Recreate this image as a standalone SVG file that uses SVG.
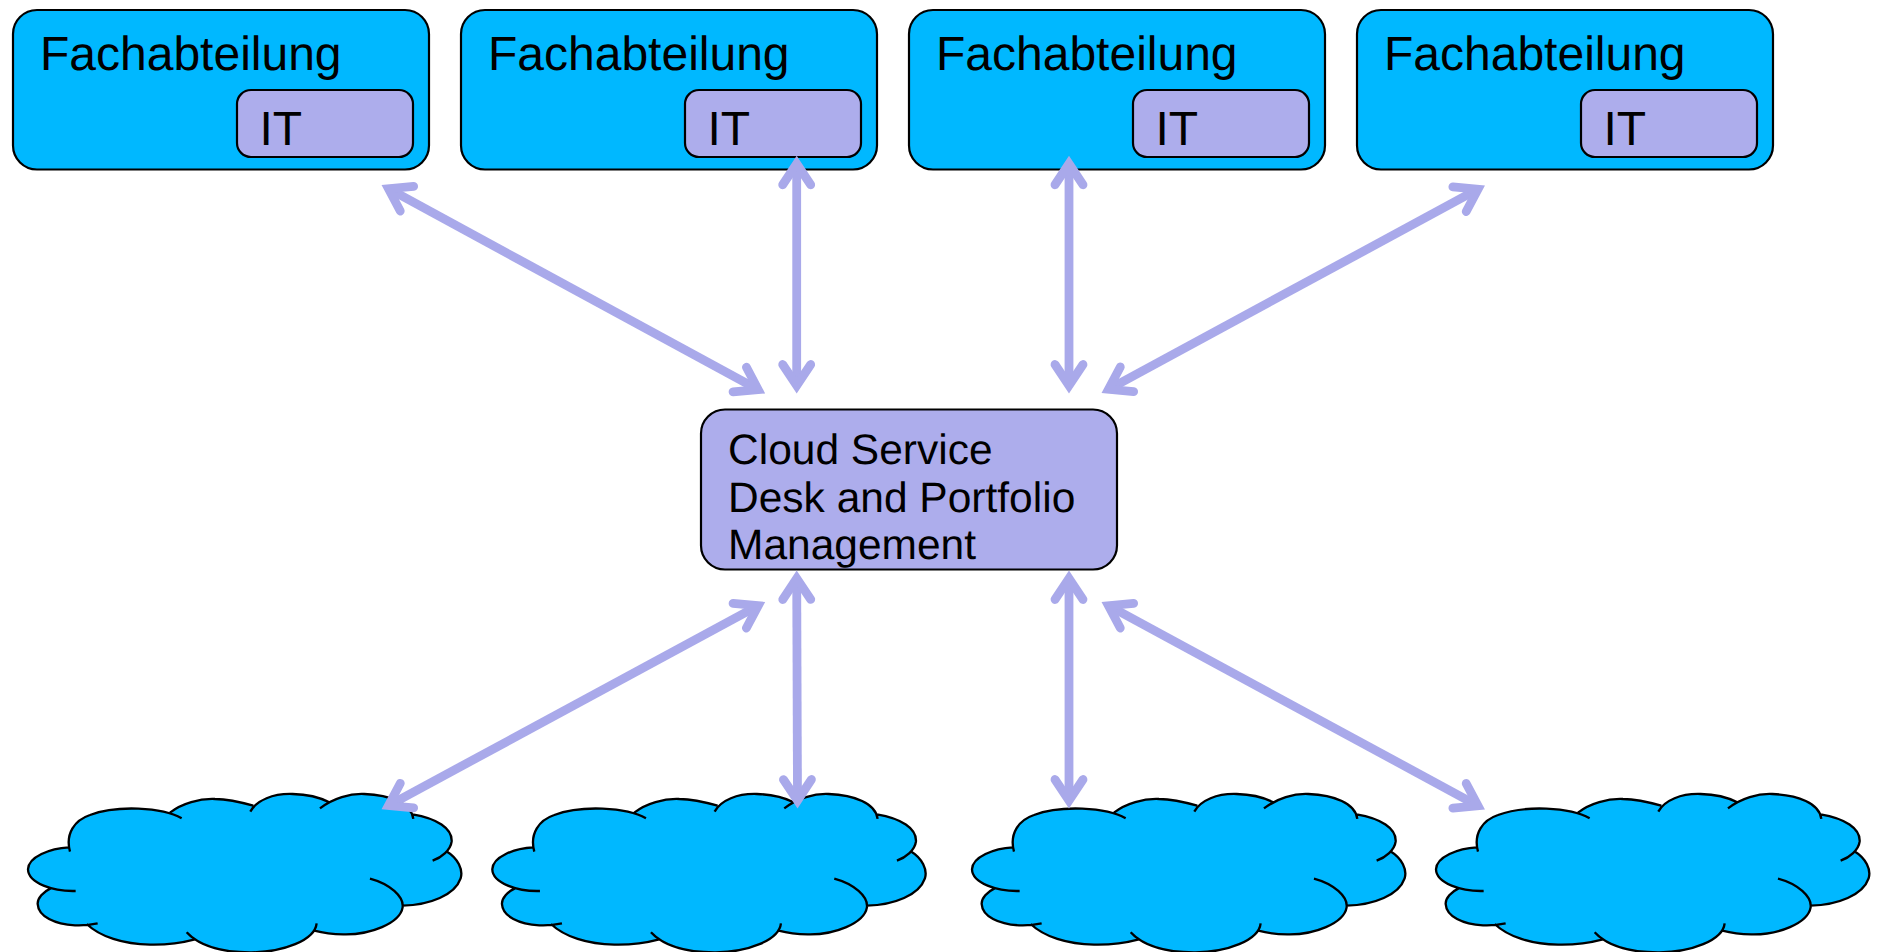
<svg xmlns="http://www.w3.org/2000/svg" width="1879" height="952" viewBox="0 0 1879 952">
<style>
.blue{fill:#00b8ff;stroke:#000;stroke-width:2.2}
.lav{fill:#adadec;stroke:#000;stroke-width:2.2}
text{font-family:"Liberation Sans",Arial,sans-serif;fill:#000;text-rendering:geometricPrecision}
.t{font-size:48px}
.c{font-size:42.500px}
.conn{stroke:#a9a9ea;stroke-width:8.800;fill:none;marker-start:url(#h);marker-end:url(#h)}
.cf{fill:#00b8ff;stroke:none}
.cs{fill:none;stroke:#000;stroke-width:7}
</style>
<defs>
<marker id="h" markerUnits="userSpaceOnUse" markerWidth="60" markerHeight="60" viewBox="-5 -30 60 60" refX="31" refY="0" orient="auto-start-reverse" overflow="visible">
<path d="M10 -14L31 0L10 14" fill="none" stroke="#a9a9ea" stroke-width="8.800" stroke-linecap="round" stroke-linejoin="miter" stroke-miterlimit="10"/>
</marker>
<g id="cloud" transform="translate(0,770) scale(0.3333)">
<path class="cf" d="M207 232C195 190 225 150 270 135C310 120 360 114 415 116C450 118 485 122 510 128C545 100 600 85 645 87C690 88 735 100 760 107C790 85 830 70 878 72C925 73 965 85 985 98C1015 82 1050 70 1093 72C1170 75 1225 100 1238 133C1310 145 1358 175 1355 215C1352 225 1345 235 1338 243C1375 265 1390 300 1382 325C1365 375 1290 405 1208 407C1200 460 1110 495 1030 493C1000 493 965 488 943 482C900 530 830 548 750 547C690 547 630 535 585 508C540 520 490 525 450 524C370 523 300 500 260 462C245 467 235 466 225 466C165 463 115 440 113 402C112 385 130 365 152 355C110 345 84 325 84 298C85 260 150 235 207 232Z"/>
<path class="cs" d="M210 245C195 190 225 150 270 135C310 120 360 114 415 116C460 118 510 125 545 145M510 128C545 100 600 85 645 87C690 88 735 100 760 107M751 125C770 90 820 70 878 72C925 73 965 85 988 97M960 115C1000 85 1050 70 1093 72C1170 75 1235 100 1240 147M1238 133C1310 145 1358 175 1355 215C1352 240 1325 262 1298 272M1338 243C1375 265 1390 300 1382 325C1365 375 1290 405 1208 407M1110 326C1170 342 1212 380 1208 412C1200 460 1110 495 1030 493C1000 493 965 488 943 482M950 460C945 510 850 548 750 547C670 547 600 530 560 487M585 508C540 520 490 525 450 524C370 523 300 500 260 462M293 460C270 465 245 467 225 466C165 463 115 440 113 402C112 385 130 365 152 355M227 363C160 365 85 340 84 298C85 260 150 235 207 232"/>
</g>
</defs>
<rect width="1879" height="952" fill="#fff"/>
<g id="dept1"><rect class="blue" x="13" y="10" width="416" height="159.500" rx="24"/><text class="t" x="40" y="69.500">Fachabteilung</text><rect class="lav" x="237" y="90" width="176" height="67" rx="14"/><text class="t" x="259.500" y="144.500">IT</text></g>
<g id="dept2"><rect class="blue" x="461" y="10" width="416" height="159.500" rx="24"/><text class="t" x="488" y="69.500">Fachabteilung</text><rect class="lav" x="685" y="90" width="176" height="67" rx="14"/><text class="t" x="707.500" y="144.500">IT</text></g>
<g id="dept3"><rect class="blue" x="909" y="10" width="416" height="159.500" rx="24"/><text class="t" x="936" y="69.500">Fachabteilung</text><rect class="lav" x="1133" y="90" width="176" height="67" rx="14"/><text class="t" x="1155.500" y="144.500">IT</text></g>
<g id="dept4"><rect class="blue" x="1357" y="10" width="416" height="159.500" rx="24"/><text class="t" x="1384" y="69.500">Fachabteilung</text><rect class="lav" x="1581" y="90" width="176" height="67" rx="14"/><text class="t" x="1603.500" y="144.500">IT</text></g>
<g id="central"><rect class="lav" x="701" y="409.500" width="416" height="160" rx="24"/><text class="c" x="728" y="464">Cloud Service</text><text class="c" x="728" y="512">Desk and Portfolio</text><text class="c" x="728" y="559">Management</text></g>
<g id="cloud1"><use href="#cloud"/></g>
<g id="cloud2"><use href="#cloud" x="464.300"/></g>
<g id="cloud3"><use href="#cloud" x="944"/></g>
<g id="cloud4"><use href="#cloud" x="1408"/></g>
<g id="connectors">
<line class="conn" x1="388.500" y1="188.700" x2="758.200" y2="389.600"/>
<line class="conn" x1="796.700" y1="163.800" x2="796.700" y2="385.500"/>
<line class="conn" x1="1069" y1="163.800" x2="1069" y2="385.500"/>
<line class="conn" x1="1478" y1="189.200" x2="1108.500" y2="389.300"/>
<line class="conn" x1="758.200" y1="605.700" x2="388.500" y2="805.600"/>
<line class="conn" x1="796.700" y1="578.500" x2="797.500" y2="800.500"/>
<line class="conn" x1="1069" y1="578.500" x2="1069" y2="800.500"/>
<line class="conn" x1="1108.500" y1="605.700" x2="1478" y2="805.800"/>
</g>
</svg>
